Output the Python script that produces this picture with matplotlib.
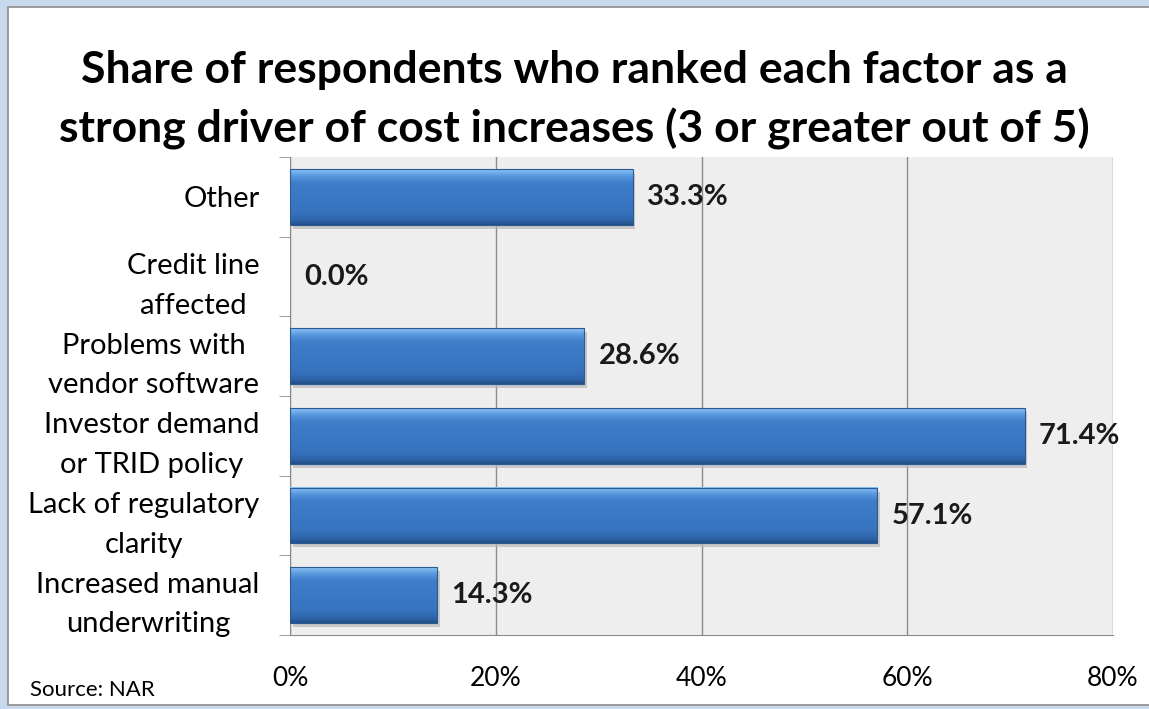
import numpy as np
import matplotlib
matplotlib.use("Agg")
import matplotlib.pyplot as plt
from matplotlib.patches import Rectangle, FancyBboxPatch
from matplotlib.colors import LinearSegmentedColormap

plt.rcParams['font.family'] = ['Lato', 'DejaVu Sans']

factors = ["Other", "Credit line\naffected", "Problems with\nvendor software",
           "Investor demand\nor TRID policy", "Lack of regulatory\nclarity",
           "Increased manual\nunderwriting"]
shares = [33.3, 0.0, 28.6, 71.4, 57.1, 14.3]
xticks = [0, 20, 40, 60, 80]

fig = plt.figure(figsize=(11.49, 7.09), dpi=100)
fig.patch.set_facecolor("#c8d9ee")
# white chart panel with thin gray border
panel = FancyBboxPatch((8 / 1149, 4 / 709), 1.0, 698 / 709,
                       boxstyle="square,pad=0", transform=fig.transFigure,
                       facecolor="white", edgecolor="#8c8c8c", lw=1.2, zorder=-5)
fig.patches.append(panel)

ax = fig.add_axes([290 / 1149, 74 / 709, 823 / 1149, 478 / 709])
ax.set_facecolor("#eeeeee")

y = np.arange(len(factors))
bars = ax.barh(y, shares, height=0.7, color="none", zorder=3)

# gradient fill for each bar: light highlight on top, darker towards bottom
cmap = LinearSegmentedColormap.from_list(
    "bevel", [(0.0, "#8cc2f4"), (0.12, "#5596dc"), (0.25, "#3d7dc9"),
              (0.75, "#3874c0"), (0.92, "#2f66aa"), (1.0, "#234f86")])
grad = np.linspace(0, 1, 64).reshape(-1, 1)
for b in bars:
    w = b.get_width()
    x0, y0, h = b.get_x(), b.get_y(), b.get_height()
    if w > 0:
        # soft shadow below/right
        ax.add_patch(Rectangle((x0 + 0.25, y0 + 0.05), w, h, facecolor="#b8b8b8",
                               edgecolor="none", alpha=0.7, zorder=2))
        ax.imshow(grad, cmap=cmap, aspect="auto", extent=(x0, x0 + w, y0 + h, y0),
                  origin="upper", zorder=3, interpolation="bicubic")
        ax.add_patch(Rectangle((x0, y0), w, h, facecolor="none",
                               edgecolor="#2a5a96", lw=0.8, zorder=4))
    ax.text(x0 + w + 1.4, y0 + h / 2, f"{w:.1f}%", va="center", ha="left",
            fontsize=21, fontweight="bold", color="#1a1a1a", zorder=5)

ax.set_xlim(0, 80)
ax.set_ylim(len(factors) - 0.5, -0.5)
ax.set_xticks(xticks)
ax.set_xticklabels([f"{t}%" for t in xticks], fontsize=19)
ax.set_yticks(y)
ax.set_yticklabels(factors, fontsize=21, linespacing=1.65, multialignment="center")
ax.tick_params(axis="y", length=0, pad=22)
ax.tick_params(axis="x", length=0, pad=22)

# boundary ticks on category axis and value axis
ax.set_yticks(np.arange(-0.5, len(factors)), minor=True)
ax.tick_params(axis="y", which="minor", length=8, color="#8c8c8c", direction="out")
ax.set_xticks(xticks, minor=True)
ax.tick_params(axis="x", which="minor", length=8, color="#8c8c8c", direction="out")

ax.grid(axis="x", color="#8c8c8c", lw=1.0, zorder=1)
ax.set_axisbelow(True)
for s in ["top", "right"]:
    ax.spines[s].set_visible(False)
for s in ["left", "bottom"]:
    ax.spines[s].set_color("#8c8c8c")

fig.text(0.5, 1 - 100 / 709, "Share of respondents who ranked each factor as a\nstrong driver of cost increases (3 or greater out of 5)",
         ha="center", va="center", fontsize=32, fontweight="bold", linespacing=1.5)
fig.text(30 / 1149, 1 - 690 / 709, "Source: NAR", ha="left", va="center", fontsize=16)

fig.savefig("out.png", dpi=100, facecolor=fig.get_facecolor())
